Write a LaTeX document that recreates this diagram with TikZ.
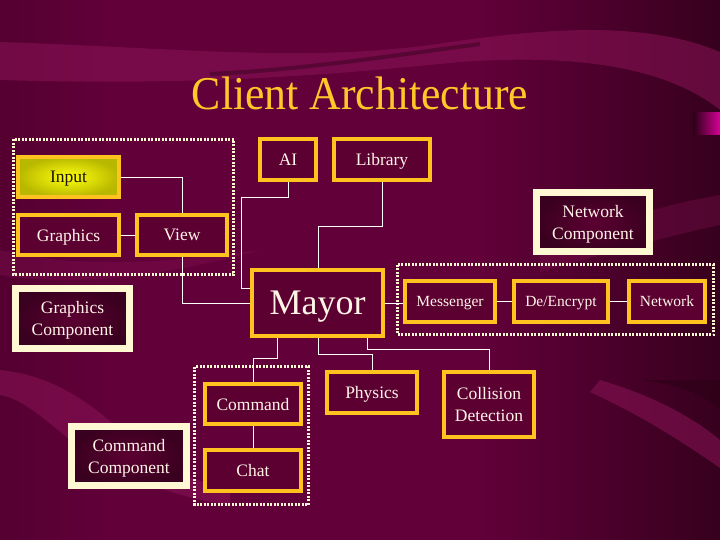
\documentclass[tikz,border=0pt]{standalone}
\usepackage{fontspec}
\setmainfont{Liberation Serif}
\usetikzlibrary{calc}
\definecolor{bgmid}{HTML}{62003A}
\definecolor{bgdark}{HTML}{2A0015}
\definecolor{bgdarker}{HTML}{22000F}
\definecolor{band}{HTML}{8A1456}
\definecolor{gold}{HTML}{FFC21E}
\definecolor{cream}{HTML}{FFF8D2}
\definecolor{boxfill}{HTML}{5C0032}
\definecolor{boxdark}{HTML}{3A001F}
\definecolor{txt}{HTML}{FFF4E6}
\definecolor{titlecol}{HTML}{FFC828}
\definecolor{inputtxt}{HTML}{1A1400}
\pgfdeclarehorizontalshading{bgsh}{100bp}{color(0bp)=(bgdark); color(33bp)=(bgmid); color(58bp)=(bgmid); color(80bp)=(bgdark); color(100bp)=(bgdarker)}
\tikzset{
  obox/.style={draw=gold, line width=4pt, fill=boxfill, inner sep=0pt, text=txt,
    font=\fontsize{17.5}{22}\selectfont, align=center, text depth=0pt},
  cbox/.style={draw=cream, line width=7pt, inner color=boxfill, outer color=boxdark,
    inner sep=0pt, text=txt, font=\fontsize{17.5}{22}\selectfont, align=center, text depth=0pt},
  smalltext/.style={font=\fontsize{15.5}{18}\selectfont},
  sz/.style 2 args={minimum width=#1, minimum height=#2},
  grp/.style={draw=cream, line width=3pt, dash pattern=on 2pt off 1.5pt},
  wire/.style={draw=white, line width=0.9pt},
  bandfill/.style={fill=band, opacity=0.55}
}
\begin{document}
\begin{tikzpicture}[x=1pt,y=-1pt]
% background
\shade[shading=bgsh] (0,0) rectangle (720,540);
\useasboundingbox (0,0) rectangle (720,540);
% top swoosh
\fill[bandfill] (0,42) .. controls (180,48) and (300,62) .. (430,45)
  .. controls (530,30) and (640,18) .. (720,52) -- (720,110)
  .. controls (660,62) and (560,55) .. (460,62)
  .. controls (330,75) and (200,86) .. (0,80) -- cycle;
\draw[bgdark, line width=4pt, opacity=0.4] (210,74) .. controls (300,70) and (390,56) .. (480,44);
% right stripes and magenta tab
\fill[bandfill, opacity=0.3] (540,250) .. controls (600,225) and (660,205) .. (720,195) -- (720,225) .. controls (660,238) and (600,255) .. (540,272) -- cycle;
\shade[left color=bgdark, right color=magenta!70!red!85!black] (693,113) rectangle (720,135);
% middle-left swoosh
\fill[bandfill, opacity=0.3] (0,250) .. controls (80,270) and (170,262) .. (260,250) .. controls (170,275) and (80,288) .. (0,275) -- cycle;
% bottom-left swoosh
\fill[bandfill] (0,370) .. controls (50,375) and (90,400) .. (130,440)
  .. controls (160,465) and (190,480) .. (230,490) -- (230,505)
  .. controls (160,495) and (110,470) .. (70,440)
  .. controls (40,415) and (20,398) .. (0,395) -- cycle;
% bottom-right swoosh
\fill[bandfill] (600,380) .. controls (650,395) and (690,415) .. (720,440) -- (720,468)
  .. controls (680,440) and (640,415) .. (590,392) -- cycle;
\fill[bgdark, opacity=0.5] (640,380) .. controls (680,385) and (705,395) .. (720,410) -- (720,380) -- cycle;

% title
\node[anchor=base, text=titlecol, font=\fontsize{47}{50}\selectfont, xscale=0.93] (title) at (360,110) {Client Architecture};

% group frames
\draw[grp] (13.5,139.5) rectangle (233.5,274.5);
\draw[grp] (397.5,264.5) rectangle (713.5,334.5);
\draw[grp] (194.5,366.5) rectangle (308.5,504.5);

% boxes
\node[obox, sz={101pt}{40pt}, inner color=yellow!95!white, outer color=yellow!72!black] (input) at (68.5,177) {\color{inputtxt}Input};
\node[obox, sz={101pt}{40pt}] (graphics) at (68.5,235) {Graphics};
\node[obox, sz={90pt}{40pt}] (view) at (182,235) {View};
\node[obox, sz={56pt}{41pt}] (ai) at (288,159.5) {AI};
\node[obox, sz={96pt}{41pt}] (library) at (382,159.5) {Library};
\node[obox, sz={131pt}{66pt}, font=\fontsize{36}{40}\selectfont] (mayor) at (317.5,303) {Mayor};
\node[obox, smalltext, sz={90pt}{41pt}] (messenger) at (450,301.5) {Messenger};
\node[obox, smalltext, sz={94pt}{41pt}] (decrypt) at (561,301.5) {De/Encrypt};
\node[obox, smalltext, sz={76pt}{41pt}] (network) at (667,301.5) {Network};
\node[obox, sz={96pt}{40pt}] (command) at (253,404) {Command};
\node[obox, sz={96pt}{41pt}] (chat) at (253,470.5) {Chat};
\node[obox, sz={90pt}{41pt}] (physics) at (372,392.5) {Physics};
\node[obox, sz={90pt}{65pt}] (collision) at (489,404.5) {Collision\\Detection};

\node[cbox, sz={113pt}{59pt}] (netcomp) at (593,222) {Network\\Component};
\node[cbox, sz={114pt}{60pt}] (graphcomp) at (72.5,318.5) {Graphics\\Component};
\node[cbox, sz={115pt}{59pt}] (cmdcomp) at (129,456) {Command\\Component};

% connectors
\draw[wire] (input.east) -| (view.north);
\draw[wire] (graphics.east) -- (view.west);
\draw[wire] (view.south) |- (mayor.west);
\coordinate (aiA) at (241,197);
\coordinate (aiB) at (241,288);
\draw[wire] (ai.south) |- (aiA) -- (aiB) -- (aiB -| mayor.west);
\coordinate (libA) at (318,226);
\draw[wire] (library.south) |- (libA) -- (libA |- mayor.north);
\draw[wire] (mayor.east) -- (mayor.east -| messenger.west);
\draw[wire] (messenger.east) -- (decrypt.west);
\draw[wire] (decrypt.east) -- (network.west);
\coordinate (mcA) at (277,358);
\draw[wire] (mcA |- mayor.south) -- (mcA) -| (command.north);
\coordinate (mpA) at (318,354);
\draw[wire] (mpA |- mayor.south) -- (mpA) -| (physics.north);
\coordinate (mdA) at (367,349);
\draw[wire] (mdA |- mayor.south) -- (mdA) -| (collision.north);
\draw[wire] (command.south) -- (chat.north);
\end{tikzpicture}
\end{document}
